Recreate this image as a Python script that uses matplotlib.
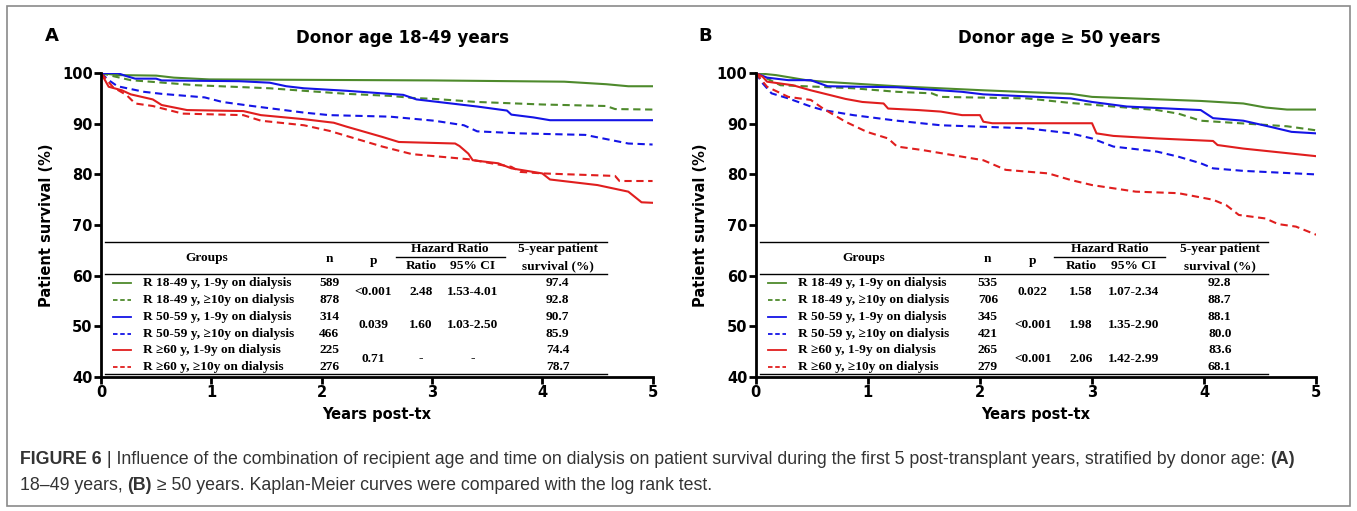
import matplotlib
matplotlib.use('Agg')
import matplotlib.pyplot as plt
from matplotlib.patches import Rectangle

# ---- data ----
groups = ['R 18-49 y, 1-9y on dialysis', 'R 18-49 y, \u226510y on dialysis',
          'R 50-59 y, 1-9y on dialysis', 'R 50-59 y, \u226510y on dialysis',
          'R \u226560 y, 1-9y on dialysis', 'R \u226560 y, \u226510y on dialysis']

# panel A, donor 18-49
a_g1_t = [0, 0.15, 0.5, 0.66, 0.98, 3.0, 4.2, 4.58, 4.78, 5.0]
a_g1_s = [100, 99.6, 99.5, 99.1, 98.75, 98.55, 98.3, 97.8, 97.4, 97.4]
a_g2_t = [0, 0.11, 0.27, 0.86, 1.53, 1.84, 2.23, 2.62, 2.82, 3.02, 3.41, 4.0, 4.58, 4.66, 5.0]
a_g2_s = [100, 99.4, 98.6, 97.6, 97.0, 96.5, 95.9, 95.5, 95.1, 94.9, 94.3, 93.8, 93.5, 92.9, 92.8]
a_b1_t = [0, 0.15, 0.23, 0.31, 0.5, 0.55, 1.25, 1.53, 1.68, 1.84, 2.23, 2.74, 2.86, 3.41, 3.68, 3.72, 3.92, 4.07, 5.0]
a_b1_s = [100, 100, 99.4, 98.9, 98.9, 98.55, 98.4, 98.1, 97.4, 97.0, 96.5, 95.7, 94.8, 93.4, 92.6, 91.8, 91.25, 90.7, 90.7]
a_b2_t = [0, 0.07, 0.15, 0.39, 0.55, 0.94, 1.1, 1.37, 1.84, 2.07, 2.62, 3.02, 3.29, 3.41, 3.8, 4.39, 4.78, 5.0]
a_b2_s = [100, 98.6, 97.4, 96.3, 95.9, 95.2, 94.3, 93.5, 92.2, 91.7, 91.4, 90.6, 89.7, 88.5, 88.1, 87.8, 86.1, 85.9]
a_r1_t = [0, 0.07, 0.19, 0.27, 0.47, 0.55, 0.78, 1.29, 1.45, 1.84, 2.11, 2.23, 2.55, 2.7, 3.21, 3.25, 3.33,
          3.37, 3.6, 3.72, 4.0, 4.07, 4.5, 4.78, 4.9, 5.0]
a_r1_s = [100, 97.3, 96.6, 95.8, 94.8, 93.7, 92.7, 92.5, 91.7, 90.9, 90.2, 89.4, 87.4, 86.4, 86.1, 85.6, 84.1,
          82.8, 82.2, 81.2, 80.2, 79.0, 77.9, 76.6, 74.5, 74.4]
a_r2_t = [0, 0.11, 0.23, 0.31, 0.47, 0.74, 1.29, 1.45, 1.84, 2.07, 2.55, 2.82, 3.33, 3.72, 3.8, 4.0, 4.66, 4.7, 5.0]
a_r2_s = [100, 97.2, 95.7, 94.0, 93.5, 92.0, 91.7, 90.6, 89.7, 88.6, 85.5, 84.0, 83.0, 81.5, 80.5, 80.2, 79.7, 78.7, 78.7]

# panel B, donor >= 50
b_g1_t = [0, 0.18, 0.45, 0.6, 1.26, 2.03, 2.81, 3.0, 3.97, 4.35, 4.55, 4.74, 5.0]
b_g1_s = [100, 99.6, 98.6, 98.3, 97.4, 96.6, 95.9, 95.3, 94.5, 94.0, 93.2, 92.8, 92.8]
b_g2_t = [0, 0.22, 0.87, 1.26, 1.57, 1.65, 2.42, 2.81, 3.19, 3.58, 3.77, 3.97, 4.74, 5.0]
b_g2_s = [100, 97.6, 97.0, 96.3, 96.0, 95.3, 95.0, 94.1, 93.4, 92.7, 92.0, 90.6, 89.5, 88.7]
b_b1_t = [0, 0.1, 0.29, 0.49, 0.64, 1.26, 1.84, 2.03, 2.81, 3.0, 3.31, 3.97, 4.08, 4.35, 4.59, 4.78, 5.0]
b_b1_s = [100, 99.1, 98.6, 98.6, 97.4, 97.2, 96.3, 95.8, 95.0, 94.3, 93.4, 92.7, 91.1, 90.6, 89.4, 88.4, 88.1]
b_b2_t = [0, 0.06, 0.14, 0.29, 0.49, 0.6, 0.87, 1.26, 1.65, 2.42, 2.81, 3.0, 3.19, 3.58, 3.77, 3.97, 4.08, 4.35, 5.0]
b_b2_s = [100, 98.0, 96.0, 95.0, 93.4, 92.7, 91.7, 90.6, 89.7, 89.1, 88.1, 87.1, 85.5, 84.5, 83.5, 82.2, 81.2, 80.7, 80.0]
b_r1_t = [0, 0.06, 0.1, 0.33, 0.49, 0.6, 0.8, 0.95, 1.14, 1.18, 1.45, 1.65, 1.84, 2.0, 2.03, 2.11, 3.0, 3.04,
          3.19, 3.58, 4.08, 4.12, 4.35, 5.0]
b_r1_s = [100, 99.3, 98.3, 97.6, 96.6, 96.0, 94.9, 94.3, 94.0, 93.0, 92.7, 92.4, 91.7, 91.7, 90.4, 90.1, 90.1, 88.1,
          87.6, 87.1, 86.6, 85.8, 85.1, 83.6]
b_r2_t = [0, 0.1, 0.29, 0.49, 0.6, 0.8, 0.99, 1.18, 1.26, 1.49, 1.84, 2.03, 2.23, 2.61, 2.81, 3.0, 3.39, 3.77,
          4.08, 4.2, 4.31, 4.55, 4.66, 4.82, 5.0]
b_r2_s = [100, 97.3, 95.3, 94.7, 93.0, 90.4, 88.4, 87.1, 85.5, 84.8, 83.5, 82.8, 80.9, 80.2, 78.9, 77.9, 76.6, 76.3,
          75.0, 73.9, 72.0, 71.3, 70.2, 69.7, 68.1]

a_n = ['589', '878', '314', '466', '225', '276']
a_p = ['<0.001', '0.039', '0.71']
a_ratio = ['2.48', '1.60', '-']
a_ci = ['1.53-4.01', '1.03-2.50', '-']
a_surv = ['97.4', '92.8', '90.7', '85.9', '74.4', '78.7']

b_n = ['535', '706', '345', '421', '265', '279']
b_p = ['0.022', '<0.001', '<0.001']
b_ratio = ['1.58', '1.98', '2.06']
b_ci = ['1.07-2.34', '1.35-2.90', '1.42-2.99']
b_surv = ['92.8', '88.7', '88.1', '80.0', '83.6', '68.1']

colors = ['#4e8a2c', '#4e8a2c', '#1414e6', '#1414e6', '#e01e1e', '#e01e1e']
styles = ['-', '--', '-', '--', '-', '--']

SANS = ['DejaVu Sans']
SERIF = ['Liberation Serif', 'DejaVu Serif']

fig = plt.figure(figsize=(13.57, 5.11), dpi=100)

# grey frame round everything
fig.patches.append(Rectangle((0.0055, 0.01), 0.989, 0.978, transform=fig.transFigure,
                             fill=False, edgecolor='#8a8a8a', lw=1.2))


def draw_panel(ax, curves, letter, title, title_x, n, p, ratio, ci, surv, ci_line):
    for k, (t, s) in enumerate(curves):
        ax.plot(t, s, color=colors[k], ls=styles[k], lw=1.5, dashes=(3.5, 2.2) if styles[k] == '--' else (None, None))
    ax.set_xlim(0, 5)
    ax.set_ylim(40, 100)
    ax.set_xticks([0, 1, 2, 3, 4, 5])
    ax.set_yticks([40, 50, 60, 70, 80, 90, 100])
    for sp in ['top', 'right']:
        ax.spines[sp].set_visible(False)
    for sp in ['left', 'bottom']:
        ax.spines[sp].set_linewidth(2)
    ax.tick_params(width=2, length=5, labelsize=10.5, pad=1)
    for lab in ax.get_xticklabels() + ax.get_yticklabels():
        lab.set_fontweight('bold')
        lab.set_family(SANS)
    ax.set_xlabel('Years post-tx', fontsize=10.5, fontweight='bold', family=SANS, labelpad=5)
    ax.set_ylabel('Patient survival (%)', fontsize=10.5, fontweight='bold', family=SANS, labelpad=6)
    ax.text(title_x, 1.115, title, transform=ax.transAxes, fontsize=12, fontweight='bold', family=SANS,
            ha='center', va='center')
    ax.text(-0.102, 1.122, letter, transform=ax.transAxes, fontsize=13, fontweight='bold', family=SANS,
            ha='left', va='center')

    # table drawn into the axes
    x0, x1 = 0.04, ci_line[2]
    ax.plot([x0, x1], [66.7, 66.7], color='k', lw=1.0, clip_on=False)
    ax.plot([x0, x1], [60.3, 60.3], color='k', lw=1.0, clip_on=False)
    ax.plot([x0, x1], [40.6, 40.6], color='k', lw=1.0, clip_on=False)
    ax.plot([ci_line[0], ci_line[1]], [63.7, 63.7], color='k', lw=1.0)
    kw = dict(family=SERIF, fontweight='bold', fontsize=9.6, va='center')
    ax.text(0.96, 63.5, 'Groups', ha='center', **kw)
    ax.text(2.07, 63.3, 'n', ha='center', **kw)
    ax.text(2.47, 62.9, 'p', ha='center', **kw)
    ax.text(3.16, 65.2, 'Hazard Ratio', ha='center', **kw)
    ax.text(2.9, 61.9, 'Ratio', ha='center', **kw)
    ax.text(3.37, 61.9, '95% CI', ha='center', **kw)
    ax.text(4.14, 65.2, '5-year patient', ha='center', **kw)
    ax.text(4.14, 61.9, 'survival (%)', ha='center', **kw)
    rows = [58.5, 55.2, 51.9, 48.6, 45.3, 42.0]
    for k, y in enumerate(rows):
        ax.plot([0.11, 0.27], [y, y], color=colors[k], ls=styles[k], lw=1.3,
                dashes=(2.5, 1.5) if styles[k] == '--' else (None, None))
        ax.text(0.38, y, groups[k], ha='left', **kw)
        ax.text(2.07, y, n[k], ha='center', **kw)
        ax.text(4.14, y, surv[k], ha='center', **kw)
    for j in range(3):
        y = (rows[2 * j] + rows[2 * j + 1]) / 2
        ax.text(2.47, y, p[j], ha='center', **kw)
        ax.text(2.9, y, ratio[j], ha='center', **kw)
        ax.text(3.37, y, ci[j], ha='center', **kw)


axA = fig.add_axes([0.0744, 0.262, 0.4065, 0.595])
draw_panel(axA, [(a_g1_t, a_g1_s), (a_g2_t, a_g2_s), (a_b1_t, a_b1_s), (a_b2_t, a_b2_s),
                 (a_r1_t, a_r1_s), (a_r2_t, a_r2_s)],
           'A', 'Donor age 18-49 years', 0.5475, a_n, a_p, a_ratio, a_ci, a_surv, (2.67, 3.66, 4.59))

axB = fig.add_axes([0.557, 0.262, 0.4129, 0.595])
draw_panel(axB, [(b_g1_t, b_g1_s), (b_g2_t, b_g2_s), (b_b1_t, b_b1_s), (b_b2_t, b_b2_s),
                 (b_r1_t, b_r1_s), (b_r2_t, b_r2_s)],
           'B', 'Donor age \u2265 50 years', 0.541, b_n, b_p, b_ratio, b_ci, b_surv, (2.66, 3.65, 4.57))

# caption with bold pieces, laid out left to right
CAP = ['Liberation Sans', 'DejaVu Sans']
cap_lines = [
    [('FIGURE 6', 'bold'), (' | Influence of the combination of recipient age and time on dialysis on patient '
                            'survival during the first 5 post-transplant years, stratified by donor age: ', 'normal'),
     ('(A)', 'bold')],
    [('18\u201349 years, ', 'normal'), ('(B)', 'bold'), (' \u2265 50 years. Kaplan-Meier curves were compared with '
                                                        'the log rank test.', 'normal')],
]
renderer = fig.canvas.get_renderer()
for line, ypix in zip(cap_lines, [459, 486]):
    xpix = 20
    for txt, wt in line:
        t = fig.text(xpix / 1357, 1 - ypix / 511, txt, fontsize=12.8, fontweight=wt, family=CAP,
                     color='#333333', ha='left', va='center')
        xpix += t.get_window_extent(renderer).width

fig.savefig('out.png', dpi=100)
